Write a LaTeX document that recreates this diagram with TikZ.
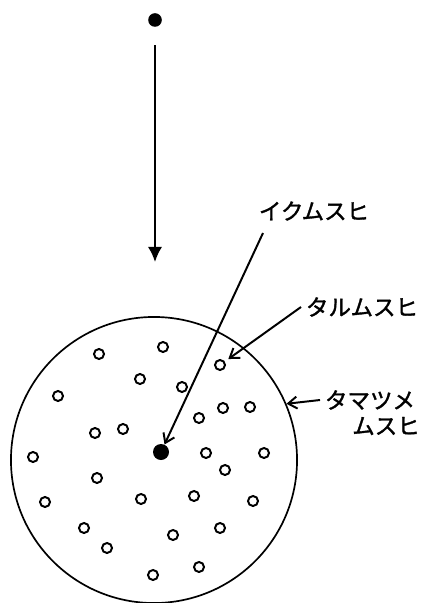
\documentclass[tikz,border=0pt]{standalone}
\usepackage{fontspec}
\newfontfamily\jpfont[FakeBold=1.5]{Noto Sans CJK JP}
\usetikzlibrary{arrows.meta}
\usetikzlibrary{positioning}

\begin{document}
\begin{tikzpicture}[x=0.025cm, y=-0.025cm,
  every node/.style={font=\jpfont\fontsize{16}{19}\selectfont},
  grain/.style={circle, draw, line width=1.4pt, inner sep=0pt, minimum size=0.25cm},
  pointer/.style={line width=1.4pt, -{Straight Barb[length=0.22cm,width=0.3cm]}}]
  \useasboundingbox (0,0) rectangle (422,603);

  % falling seed
  \node[circle, fill, inner sep=0pt, minimum size=0.34cm] (Seed) at (155,20) {};
  \coordinate (Drop) at (155,262);
  \draw[line width=1.4pt, shorten <=0.45cm, -{Latex[length=0.38cm,width=0.36cm]}] (Seed) -- (Drop);

  % the ball
  \node[circle, draw, line width=1.2pt, inner sep=0pt, minimum size=7.15cm] (Ring) at (154,460) {};
  \node[circle, fill, inner sep=0pt, minimum size=0.4cm] (Core) at (161,452) {};

  \foreach \x/\y/\n in {99/354/1, 163/347/2, 140/379/3, 182/387/4, 220/365/5,
    58/396/6, 223/408/7, 250/407/8, 199/418/9, 95/433/10, 123/429/11,
    33/457/12, 206/453/13, 264/453/14, 225/470/15, 97/478/16, 45/502/17,
    141/499/18, 194/496/19, 253/501/20, 84/528/21, 173/535/22, 220/528/23,
    107/548/24, 153/575/25, 199/567/26}{%
    \node[grain] (g\n) at (\x,\y) {};
  }

  % labels
  \node (Iku) at (314,211) {イクムスヒ};
  \coordinate (IkuTail) at (263,233);
  \draw[pointer] (IkuTail) -- (Core);

  \node (Taru) at (362,307) {タルムスヒ};
  \draw[pointer, shorten >=3pt] (Taru.west) -- (g5);

  \node (Tama) at (370,400) {タマツメ};
  \node (TamaB) at (386,426) {ムスヒ};
  \draw[pointer] (Tama.west) -- (Ring.23);
\end{tikzpicture}
\end{document}
